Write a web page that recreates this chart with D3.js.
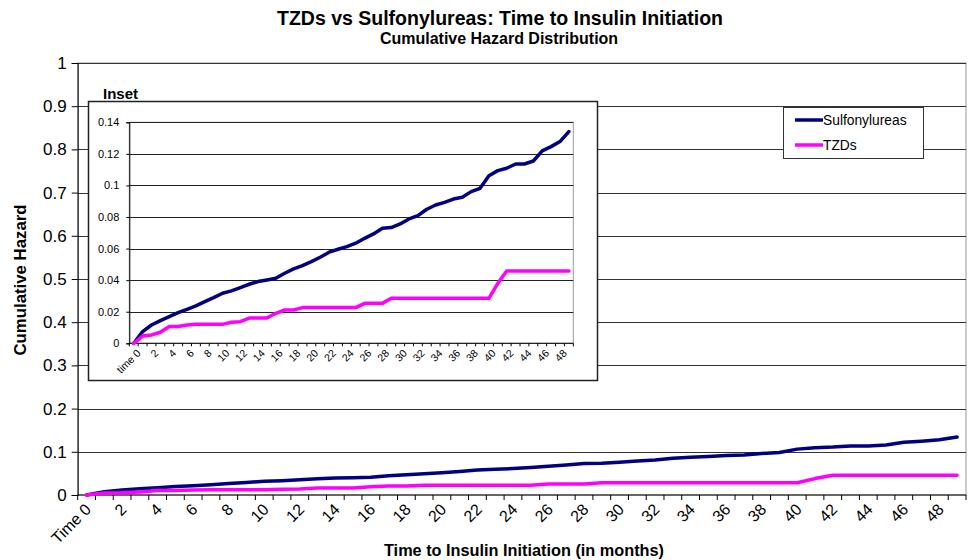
<!DOCTYPE html>
<html>
<head>
<meta charset="utf-8">
<script src="https://cdn.jsdelivr.net/npm/d3@7"></script>
<style>
  html, body { margin: 0; padding: 0; background: #fff; }
  svg { display: block; font-family: "Liberation Sans", Arial, sans-serif; }
</style>
</head>
<body>
<svg id="chart" width="973" height="560"></svg>
<script>
// ---- Data ----
const months = d3.range(0, 50); // category index 0..49
const sulfonylureas = [0, 0.0074, 0.0116, 0.0144, 0.0169, 0.0194, 0.0215, 0.0237, 0.0264, 0.0289,
  0.0317, 0.0332, 0.0353, 0.0374, 0.0391, 0.0401, 0.0412, 0.0444, 0.0471, 0.0492,
  0.0517, 0.0545, 0.0577, 0.0596, 0.0612, 0.0634, 0.0665, 0.0693, 0.0729, 0.0733,
  0.0756, 0.0788, 0.0809, 0.0849, 0.0876, 0.0893, 0.0914, 0.0925, 0.0961, 0.0982,
  0.1062, 0.1094, 0.1109, 0.1136, 0.1136, 0.1155, 0.1219, 0.1246, 0.1278, 0.1341];
const tzds = [0, 0.0046, 0.0053, 0.0070, 0.0106, 0.0106, 0.0116, 0.0120, 0.0120, 0.0120,
  0.0120, 0.0133, 0.0137, 0.0160, 0.0160, 0.0160, 0.0190, 0.0211, 0.0211, 0.0226,
  0.0226, 0.0226, 0.0226, 0.0226, 0.0226, 0.0226, 0.0253, 0.0253, 0.0253, 0.0285,
  0.0285, 0.0285, 0.0285, 0.0285, 0.0285, 0.0285, 0.0285, 0.0285, 0.0285, 0.0285,
  0.0285, 0.0380, 0.0458, 0.0458, 0.0458, 0.0458, 0.0458, 0.0458, 0.0458, 0.0458];
const seriesNames = ["Sulfonylureas", "TZDs"];
const seriesColors = ["#000080", "#ff00ff"];
const mainYTicks = [0, 0.1, 0.2, 0.3, 0.4, 0.5, 0.6, 0.7, 0.8, 0.9, 1];
const insetYTicks = [0, 0.02, 0.04, 0.06, 0.08, 0.1, 0.12, 0.14];
const mainXLabel = m => m === 0 ? "Time 0" : (m % 2 === 0 ? String(m) : "");
const insetXLabel = m => m === 0 ? "time 0" : (m % 2 === 0 ? String(m) : "");
const title = "TZDs vs Sulfonylureas: Time to Insulin Initiation";
const subtitle = "Cumulative Hazard Distribution";
const xTitle = "Time to Insulin Initiation (in months)";
const yTitle = "Cumulative Hazard";
const insetTitle = "Inset";

const svg = d3.select("#chart");
const series = [sulfonylureas, tzds];

// ---- Titles ----
svg.append("text").attr("x", 500).attr("y", 25).attr("text-anchor", "middle")
  .attr("font-size", 19.5).attr("font-weight", "bold").text(title);
svg.append("text").attr("x", 499).attr("y", 44).attr("text-anchor", "middle")
  .attr("font-size", 16).attr("font-weight", "bold").text(subtitle);

// ---- Main chart ----
const M = { left: 77.7, right: 966, top: 63, bottom: 495 };
const x = d3.scaleBand().domain(months).range([M.left, M.right]).padding(0);
const y = d3.scaleLinear().domain([0, 1]).range([M.bottom, M.top]);
const g = svg.append("g");

// plot border (gray)
g.append("rect").attr("x", M.left).attr("y", M.top)
  .attr("width", M.right - M.left).attr("height", M.bottom - M.top)
  .attr("fill", "none").attr("stroke", "#999").attr("stroke-width", 1);
// gridlines
g.selectAll("line.grid").data(mainYTicks.filter(t => t > 0)).join("line")
  .attr("class", "grid")
  .attr("x1", M.left).attr("x2", M.right)
  .attr("y1", d => Math.round(y(d)) + 0.5).attr("y2", d => Math.round(y(d)) + 0.5)
  .attr("stroke", "#333").attr("stroke-width", 1);

// y axis
const yAxis = g.append("g").attr("transform", `translate(${M.left},0)`)
  .call(d3.axisLeft(y).tickValues(mainYTicks).tickFormat(d3.format("~g")).tickSize(6).tickPadding(5));
yAxis.select(".domain").attr("stroke", "#000");
yAxis.selectAll(".tick line").attr("stroke", "#000");
yAxis.selectAll("text").attr("font-size", 17).attr("fill", "#000").attr("font-family", "Liberation Sans, Arial, sans-serif");

// x axis: ticks between categories
const xAxisG = g.append("g").attr("transform", `translate(0,${M.bottom})`);
xAxisG.append("line").attr("x1", M.left).attr("x2", M.right).attr("y1", 0).attr("y2", 0)
  .attr("stroke", "#000");
xAxisG.selectAll("line.tk").data(months.concat([50])).join("line").attr("class", "tk")
  .attr("x1", d => d < 50 ? x(d) : M.right).attr("x2", d => d < 50 ? x(d) : M.right)
  .attr("y1", 0).attr("y2", 5).attr("stroke", "#000");
xAxisG.selectAll("text").data(months.filter(m => mainXLabel(m) !== "")).join("text")
  .attr("transform", d => `translate(${x(d) + x.bandwidth() / 2 - 3},${7}) rotate(-45)`)
  .attr("text-anchor", "end").attr("dy", "0.75em")
  .attr("font-size", 16).text(d => mainXLabel(d));

// lines
const lineMain = d3.line().x((d, i) => x(i) + x.bandwidth() / 2).y(d => y(d));
series.forEach((s, k) => {
  g.append("path").datum(s).attr("d", lineMain).attr("fill", "none")
    .attr("stroke", seriesColors[k]).attr("stroke-width", 3.5)
    .attr("stroke-linejoin", "round").attr("stroke-linecap", "round");
});

// axis titles
svg.append("text").attr("transform", `translate(26,280) rotate(-90)`)
  .attr("text-anchor", "middle").attr("font-size", 16.8).attr("font-weight", "bold").text(yTitle);
svg.append("text").attr("x", 524).attr("y", 556).attr("text-anchor", "middle")
  .attr("font-size", 16.3).attr("font-weight", "bold").text(xTitle);

// ---- Legend ----
const L = { x: 783, y: 107, w: 140, h: 51 };
const lg = svg.append("g");
lg.append("rect").attr("x", L.x + 0.5).attr("y", L.y + 0.5).attr("width", L.w).attr("height", L.h)
  .attr("fill", "#fff").attr("stroke", "#333");
seriesNames.forEach((n, k) => {
  const yy = L.y + 13 + k * 25;
  lg.append("line").attr("x1", L.x + 12).attr("x2", L.x + 40).attr("y1", yy).attr("y2", yy)
    .attr("stroke", seriesColors[k]).attr("stroke-width", 3.5);
  lg.append("text").attr("x", L.x + 40).attr("y", yy).attr("dy", "0.35em")
    .attr("font-size", 13.8).text(n);
});

// ---- Inset ----
const IB = { x: 88, y: 101, w: 509, h: 279 };
const I = { left: 129.3, right: 573.3, top: 122.3, bottom: 343.3 };
const ig = svg.append("g");
ig.append("rect").attr("x", IB.x + 0.5).attr("y", IB.y + 0.5).attr("width", IB.w).attr("height", IB.h)
  .attr("fill", "#fff").attr("stroke", "#222").attr("stroke-width", 1.5);
svg.append("text").attr("x", 103).attr("y", 99).attr("font-size", 15).attr("font-weight", "bold").text(insetTitle);

const ix = d3.scaleBand().domain(months).range([I.left, I.right]).padding(0);
const iy = d3.scaleLinear().domain([0, 0.14]).range([I.bottom, I.top]);
ig.append("rect").attr("x", I.left).attr("y", I.top).attr("width", I.right - I.left)
  .attr("height", I.bottom - I.top).attr("fill", "none").attr("stroke", "#999");
ig.selectAll("line.grid").data(insetYTicks.filter(t => t > 0)).join("line").attr("class", "grid")
  .attr("x1", I.left).attr("x2", I.right)
  .attr("y1", d => Math.round(iy(d)) + 0.5).attr("y2", d => Math.round(iy(d)) + 0.5)
  .attr("stroke", "#222");
const iyAxis = ig.append("g").attr("transform", `translate(${I.left},0)`)
  .call(d3.axisLeft(iy).tickValues(insetYTicks).tickFormat(d3.format("~g")).tickSize(3).tickPadding(7));
iyAxis.select(".domain").attr("stroke", "#000");
iyAxis.selectAll(".tick line").attr("stroke", "#000");
iyAxis.selectAll("text").attr("font-size", 11).attr("fill", "#000").attr("font-family", "Liberation Sans, Arial, sans-serif");

const ixAxis = ig.append("g").attr("transform", `translate(0,${I.bottom})`);
ixAxis.append("line").attr("x1", I.left).attr("x2", I.right).attr("stroke", "#000");
ixAxis.selectAll("line.tk").data(months.concat([50])).join("line").attr("class", "tk")
  .attr("x1", d => d < 50 ? ix(d) : I.right).attr("x2", d => d < 50 ? ix(d) : I.right)
  .attr("y1", 0).attr("y2", 3).attr("stroke", "#000");
ixAxis.selectAll("text").data(months.filter(m => insetXLabel(m) !== "")).join("text")
  .attr("transform", d => `translate(${ix(d) + ix.bandwidth() / 2 + 2},${5}) rotate(-45)`)
  .attr("text-anchor", "end").attr("dy", "0.75em")
  .attr("font-size", 10.5).text(d => insetXLabel(d));

const lineInset = d3.line().x((d, i) => ix(i) + ix.bandwidth() / 2).y(d => iy(d));
series.forEach((s, k) => {
  ig.append("path").datum(s).attr("d", lineInset).attr("fill", "none")
    .attr("stroke", seriesColors[k]).attr("stroke-width", 3.5)
    .attr("stroke-linejoin", "round").attr("stroke-linecap", "round");
});
</script>
</body>
</html>
